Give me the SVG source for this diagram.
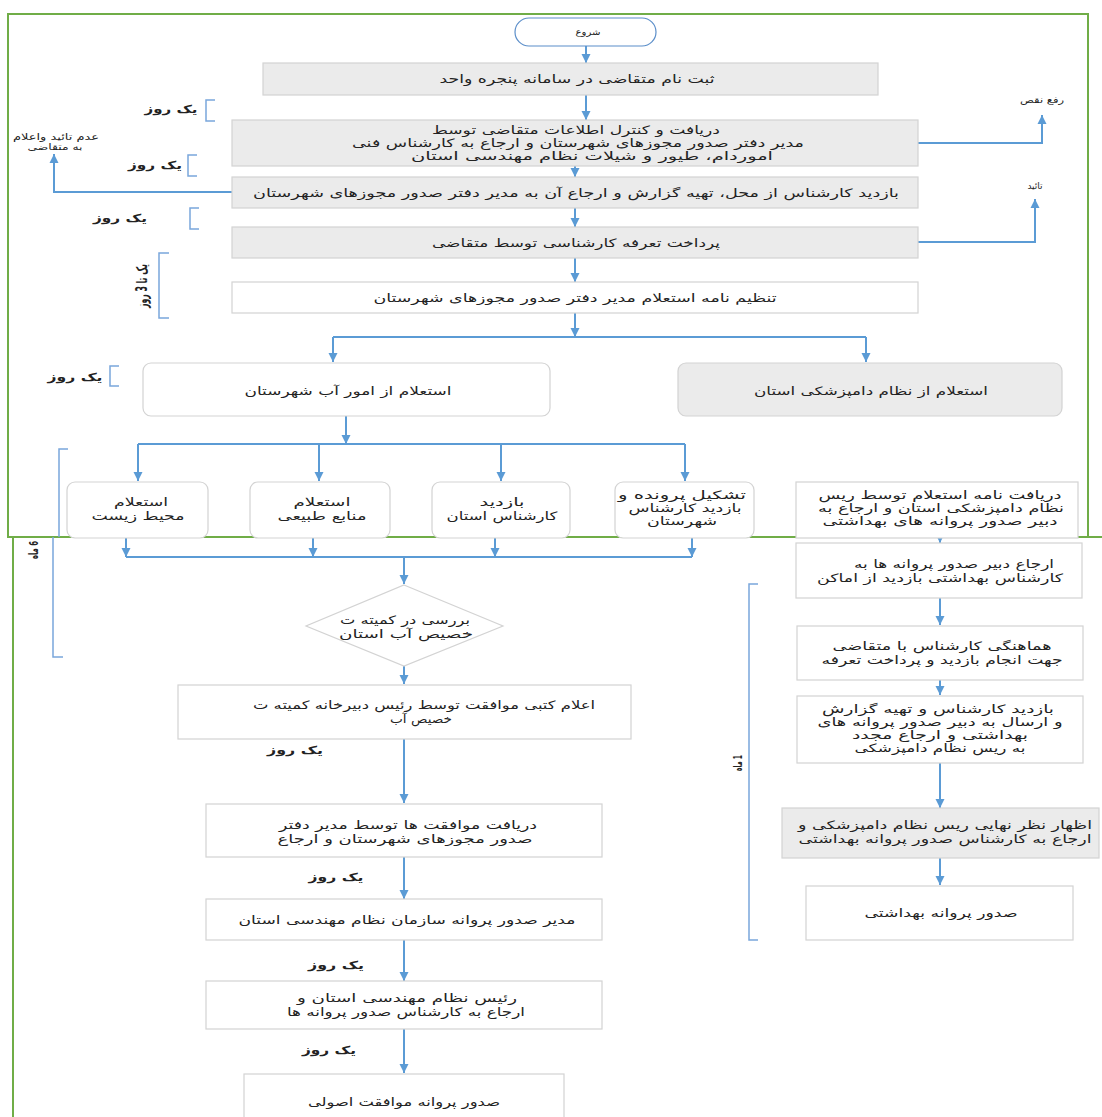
<svg xmlns="http://www.w3.org/2000/svg" width="1102" height="1117" viewBox="0 0 1102 1117">
<defs>
<marker id="ah" markerUnits="userSpaceOnUse" markerWidth="10" markerHeight="10" refX="9" refY="5" orient="auto">
<path d="M0,0.5 L9,5 L0,9.5 z" fill="#5b9bd5"/>
</marker>
<style>
text{font-family:"DejaVu Sans",sans-serif;font-size:11.5px;fill:#222;text-anchor:middle;direction:rtl}
.g{fill:#ebebeb;stroke:#d3d3d3;stroke-width:1.2}
.w{fill:#fff;stroke:#d3d3d3;stroke-width:1.2}
.c{fill:none;stroke:#5b9bd5;stroke-width:2}
.a{fill:none;stroke:#5b9bd5;stroke-width:2;marker-end:url(#ah)}
.br{fill:none;stroke:#7aa7dc;stroke-width:1.5}
.fr{fill:none;stroke:#70ad47;stroke-width:2}
.b{font-weight:bold;font-size:11px}
.v{font-weight:bold}
.s{font-size:9px}
</style>
</defs>
<rect width="1102" height="1117" fill="#fff"/>

<g id="frames">
<rect class="fr" x="8" y="14" width="1080" height="523"/>
<path class="fr" d="M13,1117 V537 H1102"/>
</g>

<g id="brackets">
<path class="br" d="M215,100 H206 V121 H215"/>
<path class="br" d="M197,155 H188 V176 H197"/>
<path class="br" d="M199,208 H190 V229 H199"/>
<path class="br" d="M169,253 H159 V318 H169"/>
<path class="br" d="M119,366 H110 V386 H119"/>
<path class="br" d="M68,449 H59 V537 M53,537 V657 H63"/>
<path class="br" d="M758,584 H749 V940 H758"/>
<text class="b" x="171" y="113" textLength="53" lengthAdjust="spacingAndGlyphs">یک روز</text>
<text class="b" x="155" y="169" textLength="54" lengthAdjust="spacingAndGlyphs">یک روز</text>
<text class="b" x="120" y="222" textLength="54" lengthAdjust="spacingAndGlyphs">یک روز</text>
<text class="b" x="75" y="381" textLength="55" lengthAdjust="spacingAndGlyphs">یک روز</text>
<text class="v" style="font-size:15px" transform="translate(147,286) rotate(-90)" textLength="44" lengthAdjust="spacingAndGlyphs">یک تا 3 روز</text>
<text class="v" style="font-size:13px" transform="translate(38,550) rotate(-90)" textLength="18" lengthAdjust="spacingAndGlyphs">6 ماه</text>
<text class="v" style="font-size:12px" transform="translate(742,763) rotate(-90)" textLength="16" lengthAdjust="spacingAndGlyphs">1 ماه</text>
<text class="b" x="295" y="754" textLength="56" lengthAdjust="spacingAndGlyphs">یک روز</text>
<text class="b" x="336" y="881" textLength="55" lengthAdjust="spacingAndGlyphs">یک روز</text>
<text class="b" x="336" y="969" textLength="56" lengthAdjust="spacingAndGlyphs">یک روز</text>
<text class="b" x="329" y="1054" textLength="54" lengthAdjust="spacingAndGlyphs">یک روز</text>
</g>

<g id="connectors">
<path class="a" d="M586,46 V63"/>
<path class="a" d="M586,95 V120"/>
<path class="a" d="M575,166 V177"/>
<path class="a" d="M575,208 V227"/>
<path class="a" d="M575,258 V282"/>
<path class="a" d="M575,313 V337"/>
<path class="c" d="M333,337 H866"/>
<path class="a" d="M333,337 V362"/>
<path class="a" d="M866,337 V362"/>
<path class="a" d="M346,416 V444"/>
<path class="c" d="M138,444 H685"/>
<path class="a" d="M138,444 V481"/>
<path class="a" d="M319,444 V481"/>
<path class="a" d="M501,444 V481"/>
<path class="a" d="M685,444 V481"/>
<path class="a" d="M126,537 V557"/>
<path class="a" d="M313,537 V557"/>
<path class="a" d="M495,537 V557"/>
<path class="a" d="M692,537 V557"/>
<path class="c" d="M126,557 H692"/>
<path class="a" d="M404,557 V584"/>
<path class="a" d="M404,666 V684"/>
<path class="a" d="M404,739 V803"/>
<path class="a" d="M404,857 V899"/>
<path class="a" d="M404,940 V981"/>
<path class="a" d="M404,1029 V1073"/>
<path class="a" d="M940,536 V543"/>
<path class="a" d="M940,598 V625"/>
<path class="a" d="M940,680 V695"/>
<path class="a" d="M940,763 V808"/>
<path class="a" d="M940,858 V885"/>
<path class="a" d="M918,143 H1042 V115"/>
<path class="a" d="M918,242 H1035 V199"/>
<path class="a" d="M232,192 H54 V154"/>
<text class="s" x="1042" y="103" textLength="44" lengthAdjust="spacingAndGlyphs">رفع نقص</text>
<text class="s" x="1035" y="189">تائید</text>
<text class="s" x="56" y="140" textLength="86" lengthAdjust="spacingAndGlyphs">عدم تائید واعلام</text>
<text class="s" x="55" y="150" textLength="55" lengthAdjust="spacingAndGlyphs">به متقاضی</text>
</g>

<g id="start">
<rect x="515" y="18" width="141" height="28" rx="14" fill="#fff" stroke="#5b8ec9" stroke-width="1.2"/>
<text class="s" x="588" y="35" textLength="25" lengthAdjust="spacingAndGlyphs">شروع</text>
</g>
<g id="n1">
<rect class="g" x="263" y="63" width="615" height="32"/>
<text x="577" y="83" textLength="275" lengthAdjust="spacingAndGlyphs">ثبت نام متقاضی در سامانه پنجره واحد</text>
</g>
<g id="n2">
<rect class="g" x="232" y="120" width="686" height="46"/>
<text x="576" y="134" textLength="288" lengthAdjust="spacingAndGlyphs">دریافت و کنترل اطلاعات متقاضی توسط</text>
<text x="578" y="147" textLength="452" lengthAdjust="spacingAndGlyphs">مدیر دفتر صدور مجوزهای شهرستان و ارجاع  به کارشناس فنی</text>
<text x="592" y="160" textLength="362" lengthAdjust="spacingAndGlyphs">اموردام، طیور و شیلات نظام مهندسی استان</text>
</g>
<g id="n3">
<rect class="g" x="232" y="177" width="686" height="31"/>
<text x="576" y="197" textLength="646" lengthAdjust="spacingAndGlyphs">بازدید کارشناس از محل، تهیه گزارش و ارجاع آن به مدیر دفتر صدور مجوزهای شهرستان</text>
</g>
<g id="n4">
<rect class="g" x="232" y="227" width="686" height="31"/>
<text x="576" y="247" textLength="288" lengthAdjust="spacingAndGlyphs">پرداخت تعرفه کارشناسی توسط متقاضی</text>
</g>
<g id="n5">
<rect class="w" x="232" y="282" width="686" height="31"/>
<text x="575" y="302" textLength="403" lengthAdjust="spacingAndGlyphs">تنظیم نامه استعلام مدیر دفتر صدور مجوزهای شهرستان</text>
</g>
<g id="n6">
<rect class="w" x="143" y="363" width="407" height="53" rx="8"/>
<text x="348" y="395" textLength="207" lengthAdjust="spacingAndGlyphs">استعلام از امور آب شهرستان</text>
</g>
<g id="n7">
<rect class="g" x="678" y="363" width="384" height="53" rx="8"/>
<text x="871" y="395" textLength="234" lengthAdjust="spacingAndGlyphs">استعلام از نظام دامپزشکی استان</text>
</g>
<g id="n8">
<rect class="w" x="67" y="482" width="141" height="56" rx="8"/>
<text x="141" y="506" textLength="54" lengthAdjust="spacingAndGlyphs">استعلام</text>
<text x="138" y="520" textLength="93" lengthAdjust="spacingAndGlyphs">محیط زیست</text>
</g>
<g id="n9">
<rect class="w" x="250" y="482" width="140" height="56" rx="8"/>
<text x="322" y="506" textLength="57" lengthAdjust="spacingAndGlyphs">استعلام</text>
<text x="322" y="520" textLength="89" lengthAdjust="spacingAndGlyphs">منابع طبیعی</text>
</g>
<g id="n10">
<rect class="w" x="432" y="482" width="138" height="56" rx="8"/>
<text x="502" y="506" textLength="45" lengthAdjust="spacingAndGlyphs">بازدید</text>
<text x="502" y="520" textLength="111" lengthAdjust="spacingAndGlyphs">کارشناس استان</text>
</g>
<g id="n11">
<rect class="w" x="615" y="482" width="139" height="56" rx="8"/>
<text x="682" y="499" textLength="128" lengthAdjust="spacingAndGlyphs">تشکیل پرونده و</text>
<text x="685" y="512" textLength="113" lengthAdjust="spacingAndGlyphs">بازدید کارشناس</text>
<text x="682" y="525" textLength="70" lengthAdjust="spacingAndGlyphs">شهرستان</text>
</g>
<g id="n12">
<rect class="w" x="796" y="482" width="282" height="56"/>
<text x="940" y="499" textLength="243" lengthAdjust="spacingAndGlyphs">دریافت نامه استعلام  توسط ریس</text>
<text x="941" y="512" textLength="246" lengthAdjust="spacingAndGlyphs">نظام دامپزشکی  استان و ارجاع به</text>
<text x="940" y="525" textLength="235" lengthAdjust="spacingAndGlyphs">دبیر صدور پروانه های بهداشتی</text>
</g>
<g id="n13">
<path class="w" d="M404,585 L503,626 L404,666 L306,626 z"/>
<text x="405" y="624" textLength="130" lengthAdjust="spacingAndGlyphs">بررسی در کمیته ت</text>
<text x="406" y="638" textLength="134" lengthAdjust="spacingAndGlyphs">خصیص آب استان</text>
</g>
<g id="n14">
<rect class="w" x="178" y="685" width="453" height="54"/>
<text x="424" y="709" textLength="342" lengthAdjust="spacingAndGlyphs">اعلام کتبی موافقت توسط رئیس دبیرخانه کمیته ت</text>
<text x="421" y="723" textLength="62" lengthAdjust="spacingAndGlyphs">خصیص آب</text>
</g>
<g id="n15">
<rect class="w" x="206" y="804" width="396" height="53"/>
<text x="408" y="829" textLength="258" lengthAdjust="spacingAndGlyphs">دریافت موافقت ها  توسط مدیر دفتر</text>
<text x="405" y="843" textLength="255" lengthAdjust="spacingAndGlyphs">صدور مجوزهای شهرستان و ارجاع</text>
</g>
<g id="n16">
<rect class="w" x="206" y="899" width="396" height="41"/>
<text x="407" y="924" textLength="337" lengthAdjust="spacingAndGlyphs">مدیر صدور پروانه سازمان نظام مهندسی استان</text>
</g>
<g id="n17">
<rect class="w" x="206" y="981" width="396" height="48"/>
<text x="407" y="1002" textLength="220" lengthAdjust="spacingAndGlyphs">رئیس نظام مهندسی  استان و</text>
<text x="406" y="1016" textLength="238" lengthAdjust="spacingAndGlyphs">ارجاع به کارشناس صدور پروانه ها</text>
</g>
<g id="n18">
<rect class="w" x="244" y="1074" width="320" height="50"/>
<text x="404" y="1106" textLength="192" lengthAdjust="spacingAndGlyphs">صدور پروانه موافقت اصولی</text>
</g>
<g id="n19">
<rect class="w" x="796" y="543" width="286" height="55"/>
<text x="954" y="568" textLength="200" lengthAdjust="spacingAndGlyphs">ارجاع دبیر صدور پروانه ها به</text>
<text x="940" y="582" textLength="246" lengthAdjust="spacingAndGlyphs">کارشناس  بهداشتی بازدید از اماکن</text>
</g>
<g id="n20">
<rect class="w" x="797" y="626" width="286" height="54"/>
<text x="942" y="650" textLength="219" lengthAdjust="spacingAndGlyphs">هماهنگی کارشناس با متقاضی</text>
<text x="942" y="664" textLength="241" lengthAdjust="spacingAndGlyphs">جهت انجام بازدید و پرداخت تعرفه</text>
</g>
<g id="n21">
<rect class="w" x="797" y="696" width="286" height="67"/>
<text x="938" y="713" textLength="232" lengthAdjust="spacingAndGlyphs">بازدید کارشناس و تهیه گزارش</text>
<text x="940" y="726" textLength="245" lengthAdjust="spacingAndGlyphs">و ارسال  به دبیر صدور پروانه های</text>
<text x="940" y="739" textLength="176" lengthAdjust="spacingAndGlyphs">بهداشتی  و ارجاع مجدد</text>
<text x="940" y="752" textLength="171" lengthAdjust="spacingAndGlyphs">به ریس نظام دامپزشکی</text>
</g>
<g id="n22">
<rect class="g" x="782" y="808" width="317" height="50"/>
<text x="945" y="829" textLength="294" lengthAdjust="spacingAndGlyphs">اظهار نظر نهایی ریس نظام دامپزشکی و</text>
<text x="945" y="843" textLength="293" lengthAdjust="spacingAndGlyphs">ارجاع به کارشناس صدور پروانه بهداشتی</text>
</g>
<g id="n23">
<rect class="w" x="806" y="886" width="267" height="54"/>
<text x="941" y="917" textLength="153" lengthAdjust="spacingAndGlyphs">صدور پروانه بهداشتی</text>
</g>
</svg>
